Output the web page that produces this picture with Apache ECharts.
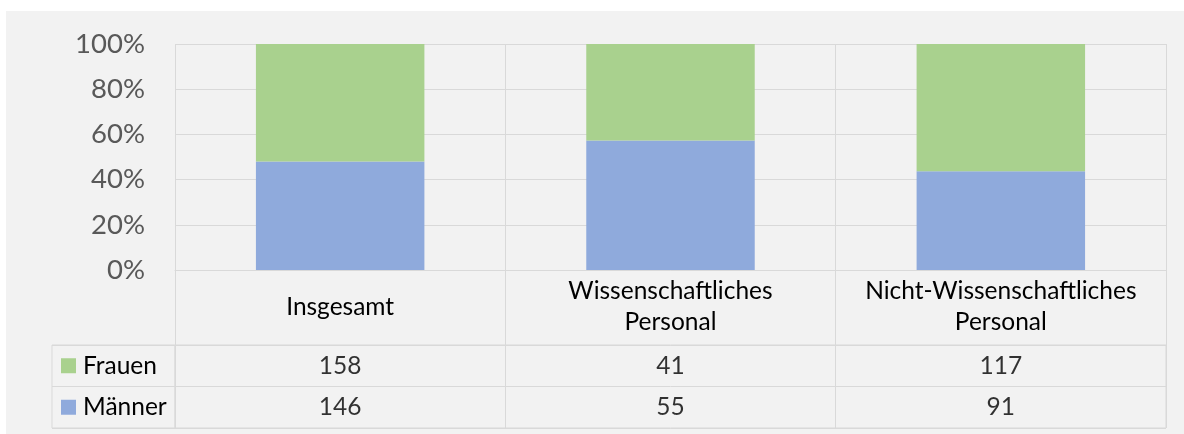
<!DOCTYPE html>
<html lang="de">
    <head>
        <meta http-equiv="Content-Type" content="text/html; charset=utf-8" />
        <title>Frauen und Männer</title>
        <style>
            * {
                margin: 0;
                padding: 0;
                box-sizing: border-box;
            }
            html,
            body {
                width: 1184px;
                height: 434px;
                background: #fff;
                overflow: hidden;
            }
            #panel {
                position: absolute;
                left: 6px;
                top: 11px;
                width: 1178px;
                height: 423px;
                background: #f2f2f2;
            }
            #chart {
                position: absolute;
                left: 0;
                top: 0;
                width: 1184px;
                height: 434px;
            }
        </style>
    </head>
    <body>
        <div id="panel"></div>
        <div id="chart"></div>
        <script src="https://cdn.jsdelivr.net/npm/echarts@6/dist/echarts.min.js"></script>
        <script>
            const categories = ['Insgesamt', 'Wissenschaftliches\nPersonal', 'Nicht-Wissenschaftliches\nPersonal']
            const rows = ['Frauen', 'Männer']
            const frauen = [158, 41, 117]
            const maenner = [146, 55, 91]
            const yTicks = [0, 20, 40, 60, 80, 100]

            const green = '#a9d18e'
            const blue = '#8faadc'
            const line = '#d9d9d9'
            const font = 'Lato'
            const tableSize = 24.5

            // Anteile in Prozent (100%-Säulen)
            const pct = (a, b) => a.map((v, i) => (v / (v + b[i])) * 100)
            const frauenPct = pct(frauen, maenner)
            const maennerPct = pct(maenner, frauen)

            // Datentabelle unter dem Diagramm
            const tableData = []
            categories.forEach((c, i) => {
                tableData.push([i, 0, frauen[i]])
                tableData.push([i, 1, maenner[i]])
            })

            const chart = echarts.init(document.getElementById('chart'))
            chart.setOption({
                animation: false,
                textStyle: { fontFamily: font },
                grid: [
                    { left: 175, right: 18, top: 44, height: 226 },
                    {
                        left: 175, right: 18, top: 345, height: 83,
                        show: true, borderColor: line, borderWidth: 1,
                    },
                    {
                        left: 52, width: 123, top: 345, height: 83,
                        show: true, borderColor: line, borderWidth: 1,
                    },
                ],
                xAxis: [
                    {
                        type: 'category',
                        data: categories,
                        gridIndex: 0,
                        axisLine: { lineStyle: { color: line } },
                        axisTick: { show: true, length: 75, lineStyle: { color: line } },
                        splitLine: { show: true, lineStyle: { color: line } },
                        axisLabel: {
                            color: '#000',
                            fontSize: tableSize,
                            lineHeight: 31,
                            verticalAlign: 'middle',
                            margin: 37,
                            interval: 0,
                        },
                    },
                    {
                        type: 'category',
                        data: categories,
                        gridIndex: 1,
                        axisLine: { show: false },
                        axisTick: { show: false },
                        axisLabel: { show: false },
                        splitLine: { show: true, lineStyle: { color: line } },
                    },
                    { type: 'value', gridIndex: 2, show: false },
                ],
                yAxis: [
                    {
                        type: 'value',
                        gridIndex: 0,
                        min: yTicks[0],
                        max: yTicks[yTicks.length - 1],
                        interval: 20,
                        axisLine: { show: false },
                        axisTick: { show: false },
                        splitLine: { lineStyle: { color: line } },
                        axisLabel: {
                            formatter: '{value}%',
                            color: '#595959',
                            fontSize: 27.5,
                            margin: 30,
                        },
                    },
                    {
                        type: 'category',
                        data: rows,
                        inverse: true,
                        gridIndex: 1,
                        axisLine: { show: false },
                        axisTick: { show: false },
                        axisLabel: { show: false },
                        splitLine: { show: true, lineStyle: { color: line } },
                    },
                    {
                        type: 'category',
                        data: rows,
                        inverse: true,
                        gridIndex: 2,
                        axisLine: { show: false },
                        axisTick: { show: false },
                        splitLine: { show: true, lineStyle: { color: line } },
                        axisLabel: {
                            inside: true,
                            margin: 9,
                            color: '#000',
                            fontSize: tableSize,
                            formatter: (v) => (v === 'Frauen' ? '{f|}' : '{m|}') + '{t|' + v + '}',
                            rich: {
                                f: { width: 15, height: 15, backgroundColor: green },
                                m: { width: 15, height: 15, backgroundColor: blue },
                                t: { fontSize: tableSize, color: '#000', padding: [0, 0, 0, 7] },
                            },
                        },
                    },
                ],
                series: [
                    {
                        name: 'Männer',
                        type: 'bar',
                        stack: 'a',
                        barWidth: '51%',
                        data: maennerPct,
                        itemStyle: { color: blue },
                    },
                    {
                        name: 'Frauen',
                        type: 'bar',
                        stack: 'a',
                        barWidth: '51%',
                        data: frauenPct,
                        itemStyle: { color: green },
                    },
                    {
                        type: 'scatter',
                        xAxisIndex: 1,
                        yAxisIndex: 1,
                        symbolSize: 0,
                        data: tableData,
                        label: {
                            show: true,
                            position: 'inside',
                            color: '#000',
                            fontSize: tableSize,
                            formatter: (p) => p.value[2],
                        },
                    },
                ],
            })
        </script>
    </body>
</html>
